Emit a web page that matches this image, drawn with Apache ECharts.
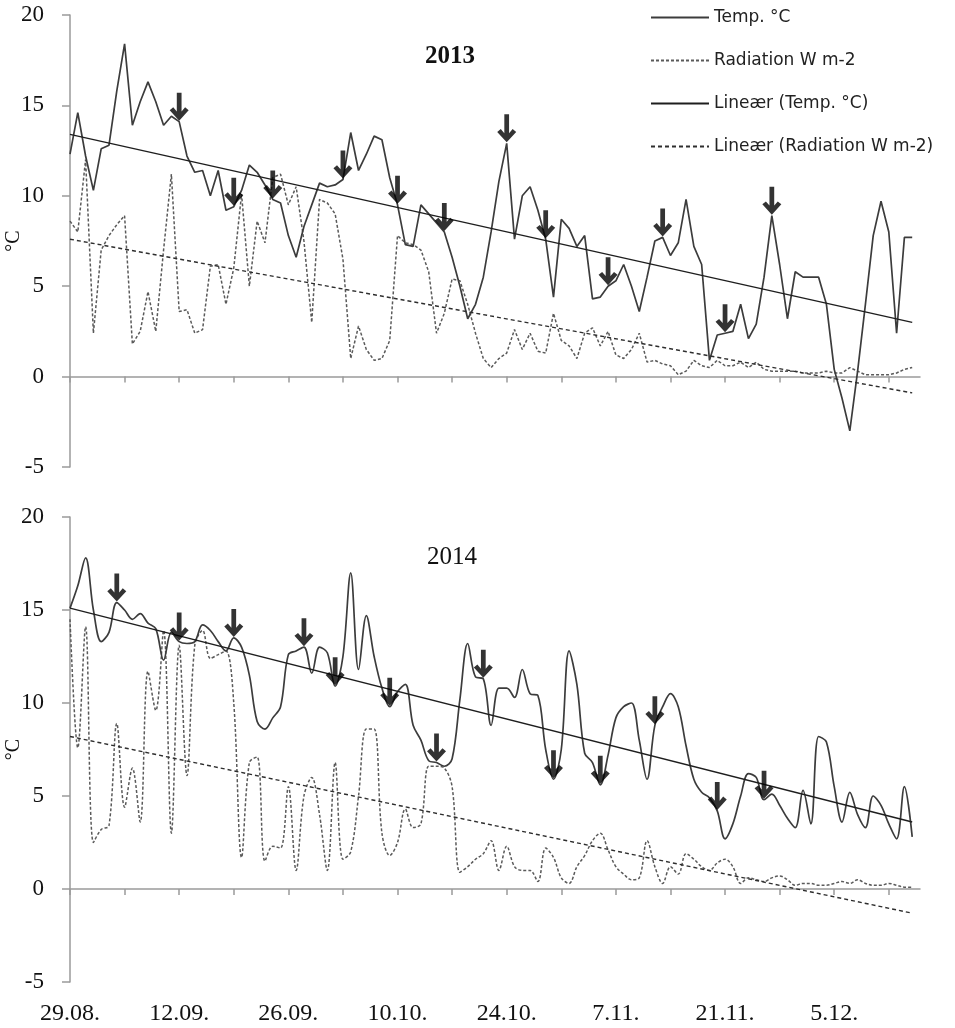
<!DOCTYPE html>
<html lang="da">
<head>
    <meta charset="UTF-8">
    <title>Temp. og radiation 2013 / 2014</title>
    <script src="https://cdn.jsdelivr.net/npm/echarts@6/dist/echarts.min.js"></script>
    <style>
        * {
            margin: 0;
            padding: 0
        }

        html, body {
            width: 100%;
            height: 100%;
            background: #fff;
        }

        #main {
            width: 955px;
            height: 1028px;
        }
    </style>
</head>
<body>
<div id="main"></div>
<script type="text/javascript">
    // daglige værdier fra 29.08. (dag 0)
    var temp2013 = [
        12.3, 14.6, 12.2, 10.3, 12.6, 12.8, 15.8, 18.4, 13.9, 15.2,
        16.3, 15.2, 13.9, 14.4, 14.1, 12.2, 11.3, 11.4, 10.0, 11.4,
        9.2, 9.4, 10.3, 11.7, 11.3, 10.6, 9.8, 9.6, 7.8, 6.6,
        8.3, 9.5, 10.7, 10.5, 10.6, 10.9, 13.5, 11.4, 12.3, 13.3,
        13.1, 11.0, 9.5, 7.3, 7.2, 9.5, 9.0, 8.5, 8.0, 6.6,
        5.0, 3.2, 4.0, 5.5, 8.0, 10.8, 12.9, 7.6, 10.0, 10.5,
        9.2, 7.6, 4.4, 8.7, 8.2, 7.2, 7.8, 4.3, 4.4, 5.0,
        5.3, 6.2, 5.0, 3.6, 5.5, 7.5, 7.7, 6.7, 7.4, 9.8,
        7.2, 6.2, 0.9, 2.3, 2.4, 2.5, 4.0, 2.1, 2.9, 5.5,
        8.9, 6.2, 3.2, 5.8, 5.5, 5.5, 5.5, 4.0, 0.4, -1.2,
        -3.0, 0.3, 4.0, 7.8, 9.7, 8.0, 2.4, 7.7, 7.7
    ];
    var rad2013 = [
        8.6, 8.0, 12.0, 2.4, 7.0, 7.8, 8.4, 8.9, 1.8, 2.5,
        4.7, 2.5, 7.0, 11.2, 3.6, 3.7, 2.4, 2.6, 6.1, 6.2,
        4.0, 6.0, 10.1, 5.0, 8.6, 7.4, 11.0, 11.2, 9.5, 10.5,
        7.5, 3.0, 9.8, 9.6, 9.0, 6.5, 1.0, 2.8, 1.5, 0.9,
        1.0, 2.0, 7.8, 7.4, 7.3, 7.0, 5.8, 2.4, 3.5, 5.4,
        5.3, 4.0, 2.4, 1.0, 0.5, 1.0, 1.3, 2.6, 1.5, 2.4,
        1.4, 1.3, 3.5, 2.0, 1.7, 1.0, 2.4, 2.7, 1.7, 2.5,
        1.2, 1.0, 1.5, 2.4, 0.8, 0.9, 0.7, 0.6, 0.1, 0.3,
        0.9, 0.6, 0.5, 0.9, 0.6, 0.6, 0.8, 0.5, 0.8, 0.4,
        0.3, 0.3, 0.3, 0.3, 0.2, 0.2, 0.2, 0.3, 0.2, 0.2,
        0.5, 0.3, 0.1, 0.1, 0.1, 0.1, 0.2, 0.4, 0.5
    ];
    var temp2014 = [
        15.1, 16.3, 17.8, 15.0, 13.3, 13.8, 15.4, 15.0, 14.5, 14.8,
        14.3, 14.0, 12.3, 13.8, 13.3, 13.2, 13.3, 14.2, 13.9, 13.3,
        12.8, 13.5, 13.0, 11.5, 9.0, 8.6, 9.2, 9.8, 12.6, 12.8,
        13.0, 11.6, 13.0, 12.7, 10.9, 12.5, 17.0, 11.8, 14.7, 12.5,
        10.8, 9.8, 10.6, 11.0, 8.8, 8.0, 6.9, 6.8, 6.6, 7.0,
        10.2, 13.2, 11.4, 11.3, 8.8, 10.8, 10.8, 10.3, 11.8, 10.5,
        10.4, 7.5, 5.9, 7.5, 12.8, 11.0, 7.3, 6.8, 5.6, 7.2,
        9.2, 9.8, 10.0, 8.0, 5.9, 8.8, 9.8, 10.5, 9.8, 7.7,
        5.9, 5.2, 4.9, 4.2, 2.7, 3.5, 5.0, 6.2, 6.0, 4.8,
        5.1, 4.5, 3.8, 3.3, 5.3, 3.5, 8.2, 7.9, 5.5, 3.6,
        5.2, 4.0, 3.3, 5.0, 4.5, 3.5, 2.7, 5.5, 2.8
    ];
    var rad2014 = [
        14.5, 7.6, 14.1, 2.5, 3.2, 3.4, 8.9, 4.4, 6.5, 3.6,
        11.7, 9.6, 13.9, 3.0, 13.1, 6.1, 13.1, 13.9, 12.4, 12.6,
        12.8, 10.0, 1.7, 6.8, 7.1, 1.5, 2.3, 2.2, 5.5, 1.0,
        5.0, 6.0, 4.0, 1.0, 6.8, 1.6, 2.0, 5.0, 8.6, 8.6,
        3.0, 1.8, 2.5, 4.3, 3.3, 3.5, 6.6, 6.6, 6.5, 5.5,
        0.9, 1.2, 1.6, 1.9, 2.6, 1.0, 2.3, 1.2, 1.0, 1.0,
        0.4, 2.2, 1.7, 0.6, 0.3, 1.2, 1.8, 2.6, 3.0, 2.1,
        1.2, 0.8, 0.5, 0.6, 2.6, 1.2, 0.3, 1.2, 0.8, 1.9,
        1.6, 1.2, 1.0, 1.4, 1.6, 1.2, 0.3, 0.6, 0.5, 0.4,
        0.6, 0.7, 0.5, 0.2, 0.3, 0.3, 0.2, 0.2, 0.3, 0.4,
        0.3, 0.5, 0.3, 0.2, 0.2, 0.3, 0.2, 0.1, 0.1
    ];

    // lineære tendenslinjer: værdi ved første og sidste dag
    var trendTemp2013 = [13.4, 3.0];
    var trendRad2013 = [7.6, -0.9];
    var trendTemp2014 = [15.1, 3.6];
    var trendRad2014 = [8.2, -1.3];

    // dage med pil
    var arrows2013 = [14, 21, 26, 35, 42, 48, 56, 61, 69, 76, 84, 90];
    var arrows2014 = [6, 14, 21, 30, 34, 41, 47, 53, 62, 68, 75, 83, 89];

    var tickLabels = ['29.08.', '12.09.', '26.09.', '10.10.', '24.10.', '7.11.', '21.11.', '5.12.'];
    var legendNames = ['Temp. °C', 'Radiation W m-2', 'Lineær (Temp. °C)', 'Lineær (Radiation W m-2)'];

    var days = [];
    for (var i = 0; i < 110; i++) {
        var d = new Date(2013, 7, 29 + i);
        days.push(d.getDate() + '.' + String(d.getMonth() + 1).padStart(2, '0') + '.');
    }

    var serif = "'Liberation Serif', 'Times New Roman', serif";
    var axisGrey = '#9a9a9a';
    var arrowPath = 'path://M7.6 0H12.4V20.5L16 16L19.6 19.2L10 30.5L0.4 19.2L4 16L7.6 20.5Z';

    function xAxisFor(grid) {
        return {
            type: 'category',
            gridIndex: grid,
            data: days,
            boundaryGap: false,
            axisLine: {lineStyle: {color: axisGrey, width: 1.5}},
            axisTick: {
                interval: function (idx) { return idx % 7 === 0; },
                length: 6,
                lineStyle: {color: axisGrey, width: 1.5}
            },
            axisLabel: {show: false},
            splitLine: {show: false}
        };
    }

    function yAxisFor(grid) {
        return {
            type: 'value',
            gridIndex: grid,
            min: -5,
            max: 20,
            interval: 5,
            name: '°C',
            nameLocation: 'middle',
            nameRotate: 90,
            nameGap: 46,
            nameMoveOverlap: false,
            nameTextStyle: {fontFamily: serif, fontSize: 20, color: '#111'},
            axisLine: {show: true, lineStyle: {color: axisGrey, width: 1.5}},
            axisTick: {show: true, length: 8, lineStyle: {color: axisGrey, width: 1.5}},
            axisLabel: {fontFamily: serif, fontSize: 23, color: '#111', margin: 26},
            splitLine: {show: false}
        };
    }

    function trend(vals, n) {
        return [[0, vals[0]], [n - 1, vals[1]]];
    }

    function panelSeries(idx, temp, rad, tT, tR, arrows, smooth) {
        var base = {type: 'line', xAxisIndex: idx, yAxisIndex: idx, symbol: 'none', silent: true};
        return [
            Object.assign({}, base, {
                name: legendNames[0], data: temp, smooth: smooth, z: 3,
                itemStyle: {color: '#3c3c3c'},
                lineStyle: {color: '#3c3c3c', width: 1.7}
            }),
            Object.assign({}, base, {
                name: legendNames[1], data: rad, smooth: smooth, z: 2,
                itemStyle: {color: '#5a5a5a'},
                lineStyle: {color: '#5a5a5a', width: 1.5, type: [3, 2]}
            }),
            Object.assign({}, base, {
                name: legendNames[2], data: trend(tT, temp.length), z: 4,
                itemStyle: {color: '#1e1e1e'},
                lineStyle: {color: '#1e1e1e', width: 1.4}
            }),
            Object.assign({}, base, {
                name: legendNames[3], data: trend(tR, rad.length), z: 4,
                itemStyle: {color: '#2e2e2e'},
                lineStyle: {color: '#2e2e2e', width: 1.4, type: [4, 3]}
            }),
            {
                type: 'scatter', xAxisIndex: idx, yAxisIndex: idx, silent: true, z: 6,
                symbol: arrowPath,
                symbolSize: [19, 28],
                symbolOffset: [0, -15],
                itemStyle: {color: '#000'},
                data: arrows.map(function (day) { return [day, temp[day]]; })
            }
        ];
    }

    var chart = echarts.init(document.getElementById('main'));
    var labelAxis = xAxisFor(1);
    labelAxis.position = 'bottom';
    labelAxis.axisLine = {show: false, onZero: false};
    labelAxis.axisTick = {show: false};
    labelAxis.axisLabel = {
        show: true,
        interval: function (idx) { return idx % 14 === 0; },
        formatter: function (v, idx) { return tickLabels[idx / 14]; },
        fontFamily: serif,
        fontSize: 24,
        color: '#111',
        margin: 20
    };

    chart.setOption({
        animation: false,
        backgroundColor: '#fff',
        grid: [
            {left: 70, right: 35, top: 15, height: 452, outerBoundsMode: 'none'},
            {left: 70, right: 35, top: 517, height: 465, outerBoundsMode: 'none'}
        ],
        legend: {
            data: legendNames,
            orient: 'vertical',
            left: 645,
            top: 4,
            itemWidth: 58,
            itemHeight: 14,
            itemGap: 26,
            selectedMode: false,
            itemStyle: {opacity: 0},
            textStyle: {fontFamily: "'DejaVu Sans', sans-serif", fontSize: 17, color: '#222', lineHeight: 16}
        },
        graphic: [
            {
                type: 'text', x: 450, y: 57,
                style: {text: '2013', fontFamily: serif, fontSize: 25, fontWeight: 'bold', fill: '#111',
                    align: 'center', verticalAlign: 'middle'}
            },
            {
                type: 'text', x: 452, y: 557,
                style: {text: '2014', fontFamily: serif, fontSize: 25, fill: '#111',
                    align: 'center', verticalAlign: 'middle'}
            }
        ],
        xAxis: [xAxisFor(0), xAxisFor(1), labelAxis],
        yAxis: [yAxisFor(0), yAxisFor(1)],
        series: panelSeries(0, temp2013, rad2013, trendTemp2013, trendRad2013, arrows2013, false)
            .concat(panelSeries(1, temp2014, rad2014, trendTemp2014, trendRad2014, arrows2014, 0.35))
    });
</script>

</body>
</html>
